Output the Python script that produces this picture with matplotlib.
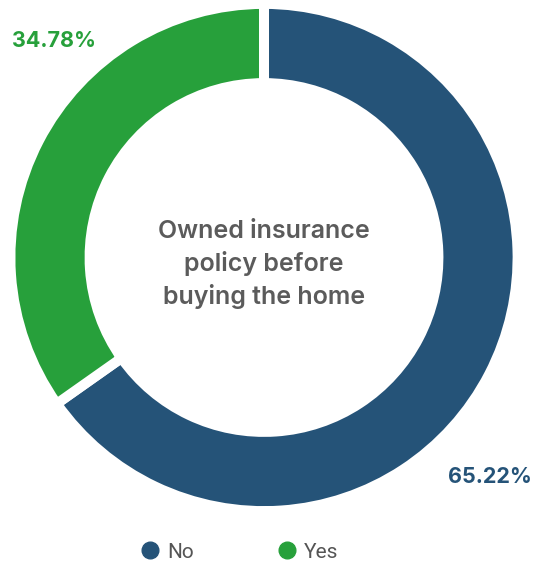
import matplotlib.pyplot as plt
from matplotlib.lines import Line2D

# Respuestas a la encuesta
categorias = ['No', 'Yes']
porcentajes = [65.22, 34.78]
colores = ['#255378', '#27a03b']
titulo_centro = 'Owned insurance\npolicy before\nbuying the home'

W, H = 541, 565
fig = plt.figure(figsize=(W / 100, H / 100), dpi=100)
ax = fig.add_axes([0, 0, 1, 1])

centro = (264, H - 257.5)
borde = 7.2  # grosor del borde blanco en puntos (10 px)
radio = 250 + 3.6
ancho = 72 + 7.2

ax.pie(porcentajes, colors=colores, startangle=90, counterclock=False,
       center=centro, radius=radio, frame=True,
       wedgeprops=dict(width=ancho, edgecolor='white', linewidth=borde))
ax.set_xlim(0, W)
ax.set_ylim(0, H)
ax.set_aspect('equal')
ax.axis('off')

ax.text(centro[0], centro[1] - 7, titulo_centro, ha='center', va='center',
        fontsize=18, fontweight='semibold', color='#5b5b5b', family='Inter',
        linespacing=1.38)

# Etiquetas de porcentaje
ax.text(490, H - 477, f'{porcentajes[0]:.2f}%', ha='center', va='center',
        fontsize=15.5, fontweight='bold', color=colores[0], family='Inter')
ax.text(54, H - 41, f'{porcentajes[1]:.2f}%', ha='center', va='center',
        fontsize=15.5, fontweight='bold', color=colores[1], family='Inter')

handles = [Line2D([], [], marker='o', linestyle='none', markersize=12,
                  markerfacecolor=c, markeredgecolor=c) for c in colores]
leg = ax.legend(handles, categorias, loc='center', ncol=2,
                bbox_to_anchor=(239 / W, (H - 552) / H), frameon=False,
                handletextpad=0.3, columnspacing=4.0, handlelength=1.0,
                prop=dict(family='Roboto', size=15))
for t in leg.get_texts():
    t.set_color('#555555')

fig.savefig('out.png', dpi=100)
